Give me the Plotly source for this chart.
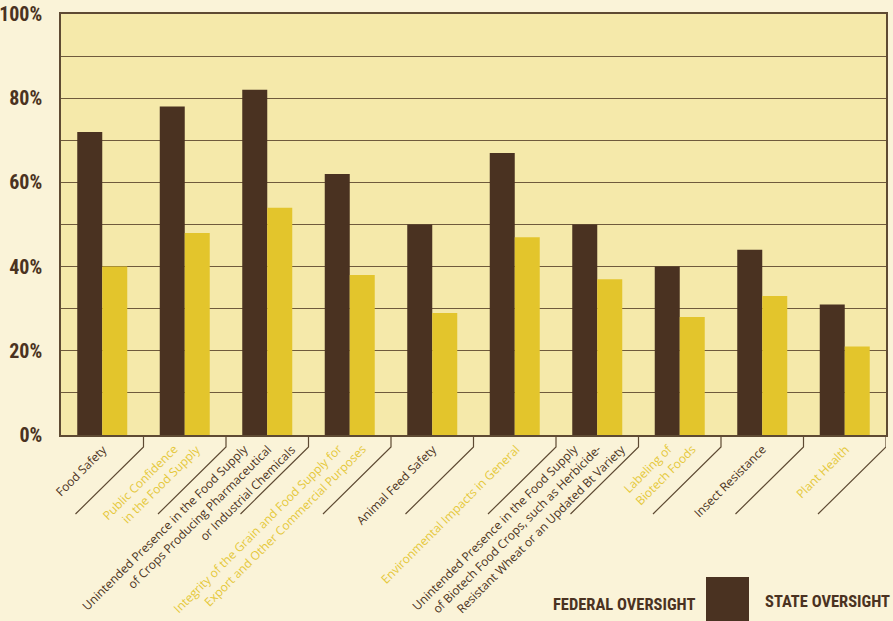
import plotly.graph_objects as go

# Survey results: share of respondents favouring each level of oversight
categories = [
    "Food Safety",
    "Public Confidence in the Food Supply",
    "Unintended Presence (Pharmaceutical/Industrial Crops)",
    "Integrity of the Grain and Food Supply",
    "Animal Feed Safety",
    "Environmental Impacts in General",
    "Unintended Presence (Biotech Food Crops)",
    "Labeling of Biotech Foods",
    "Insect Resistance",
    "Plant Health",
]
federal = [72, 78, 82, 62, 50, 67, 50, 40, 44, 31]
state = [40, 48, 54, 38, 29, 47, 37, 28, 33, 21]

# Category labels as printed, one entry per line
label_lines = [
    ["Food Safety"],
    ["Public Confidence", "in the Food Supply"],
    ["Unintended Presence in the Food Supply",
     "of Crops Producing Pharmaceutical",
     "or Industrial Chemicals"],
    ["Integrity of the Grain and Food Supply for",
     "Export and Other Commercial Purposes"],
    ["Animal Feed Safety"],
    ["Environmental Impacts in General"],
    ["Unintended Presence in the Food Supply",
     "of Biotech Food Crops, such as Herbicide-",
     "Resistant Wheat or an Updated Bt Variety"],
    ["Labeling of", "Biotech Foods"],
    ["Insect Resistance"],
    ["Plant Health"],
]
y_tick_values = [0, 20, 40, 60, 80, 100]
y_tick_text = ["0%", "20%", "40%", "60%", "80%", "100%"]

BROWN = "#4a3221"
YELLOW = "#e3c52c"
LABEL_YELLOW = "#e5c83a"
PAGE_BG = "#faf3d8"
PLOT_BG = "#f5e9aa"
AXIS_LINE = "#5e4a33"
GRID = "#6f5a3c"
COND_FONT = ("Roboto Condensed, Noto Sans Condensed, Liberation Sans Narrow, "
             "DejaVu Sans Condensed, Roboto, sans-serif")

W, H = 893, 621
M_L, M_R, M_T, M_B = 61, 7, 14, 186
plot_w = W - M_L - M_R
plot_h = H - M_T - M_B
cat_px = plot_w / len(categories)

x_idx = list(range(len(categories)))

fig = go.Figure()
fig.add_trace(go.Bar(x=x_idx, y=federal, name="FEDERAL OVERSIGHT",
                     marker=dict(color=BROWN, line=dict(width=0)),
                     showlegend=False))
fig.add_trace(go.Bar(x=x_idx, y=state, name="STATE OVERSIGHT",
                     marker=dict(color=YELLOW, line=dict(width=0)),
                     showlegend=False))


def px_to_paper_y(py):
    return (H - M_B - py) / plot_h


def px_to_paper_x(px):
    return (px - M_L) / plot_w


annotations = []
shapes = []

# Rotated category labels: each line ends on a common horizontal line below
# the axis, successive lines stepping to the right.
line_step_px = 24
for i, lines in enumerate(label_lines):
    color = BROWN if i % 2 == 0 else LABEL_YELLOW
    n = len(lines)
    for k, txt in enumerate(lines):
        off_px = 11 + (k - (n - 1) / 2) * line_step_px
        annotations.append(dict(
            x=i + off_px / cat_px, xref="x",
            y=px_to_paper_y(438), yref="paper",
            xanchor="right", yanchor="top",
            text=txt, textangle=-45, showarrow=False,
            font=dict(family="Open Sans, Noto Sans, sans-serif",
                      size=12, color=color),
        ))

# Separator leaders between categories: short drop, then a 45-degree run
for i in range(len(categories)):
    b = i + 0.5
    shapes.append(dict(
        type="path", xref="x", yref="paper",
        path=(f"M {b},{px_to_paper_y(436)} L {b},{px_to_paper_y(447)} "
              f"L {b - 68 / cat_px},{px_to_paper_y(514)}"),
        line=dict(color=AXIS_LINE, width=1.2),
    ))

# Legend drawn as text followed by its swatch
legend_font = dict(family=COND_FONT, size=16.5, color=BROWN, weight="bold")
annotations.append(dict(
    x=px_to_paper_x(697), xref="paper", y=px_to_paper_y(604), yref="paper",
    xanchor="right", yanchor="middle", showarrow=False,
    text="FEDERAL OVERSIGHT", font=legend_font,
))
shapes.append(dict(
    type="rect", xref="paper", yref="paper",
    x0=px_to_paper_x(706), x1=px_to_paper_x(749),
    y0=px_to_paper_y(577), y1=px_to_paper_y(630),
    fillcolor=BROWN, line=dict(width=0),
))
annotations.append(dict(
    x=px_to_paper_x(892), xref="paper", y=px_to_paper_y(601), yref="paper",
    xanchor="right", yanchor="middle", showarrow=False,
    text="STATE OVERSIGHT", font=legend_font,
))
shapes.append(dict(
    type="rect", xref="paper", yref="paper",
    x0=px_to_paper_x(900), x1=px_to_paper_x(943),
    y0=px_to_paper_y(577), y1=px_to_paper_y(630),
    fillcolor=YELLOW, line=dict(width=0),
))

fig.update_layout(
    width=W, height=H,
    margin=dict(l=M_L, r=M_R, t=M_T, b=M_B, pad=0, autoexpand=False),
    paper_bgcolor=PAGE_BG,
    plot_bgcolor=PLOT_BG,
    barmode="group",
    bargap=0.394,
    bargroupgap=0,
    annotations=annotations,
    shapes=shapes,
    xaxis=dict(
        range=[-0.5, len(categories) - 0.5],
        showticklabels=False, ticks="",
        showgrid=False, zeroline=False,
        showline=True, linecolor=AXIS_LINE, linewidth=1.5, mirror=True,
        fixedrange=True, automargin=False,
    ),
    yaxis=dict(
        range=[0, 100],
        tickvals=y_tick_values, ticktext=y_tick_text,
        ticks="", ticklabelstandoff=13,
        tickfont=dict(family=COND_FONT, size=20, color=BROWN, weight="bold"),
        showgrid=True, gridcolor=GRID, gridwidth=1.2,
        minor=dict(dtick=10, showgrid=True, gridcolor=GRID, gridwidth=1.2),
        zeroline=False,
        showline=True, linecolor=AXIS_LINE, linewidth=1.5, mirror=True,
        fixedrange=True, automargin=False,
    ),
)

fig.write_html("out.html")
